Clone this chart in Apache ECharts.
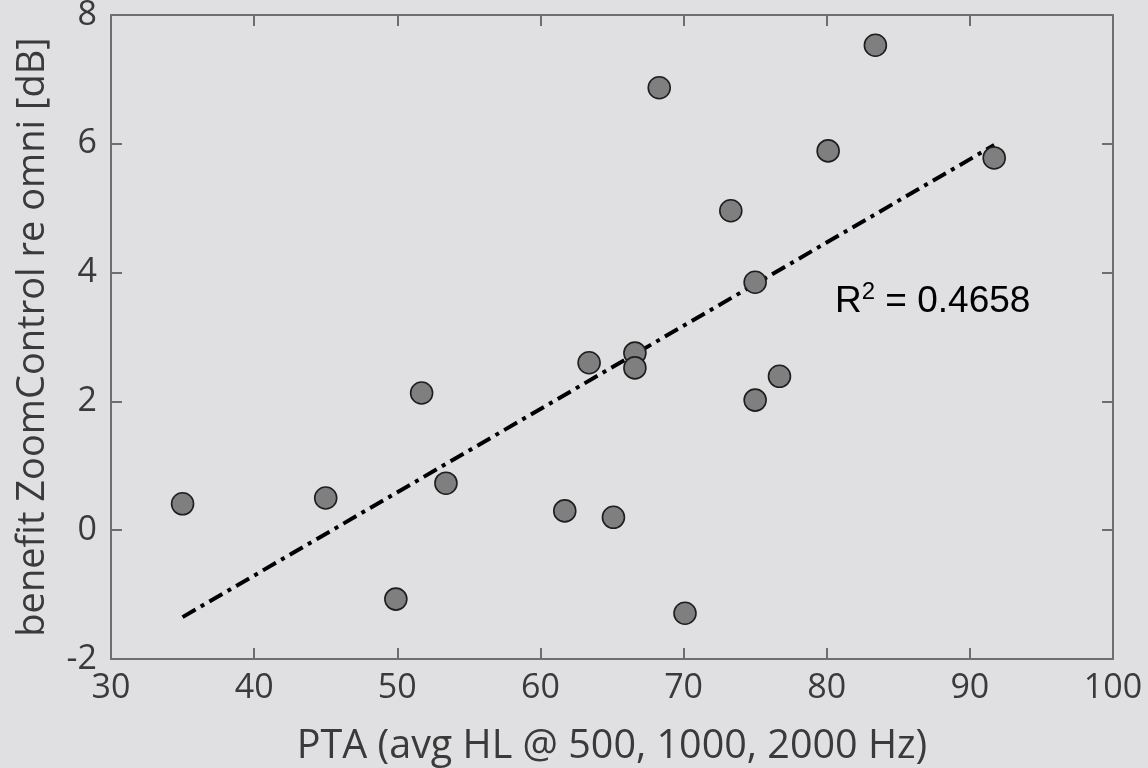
<!DOCTYPE html>
<html><head><meta charset="utf-8">
<script src="https://cdn.jsdelivr.net/npm/echarts@6/dist/echarts.min.js"></script>
<style>html,body{margin:0;padding:0;background:#e0e0e2;}#c{width:1148px;height:768px;}</style>
</head><body><div id="c"></div>
<script>
const ptaValues = [35.0, 45.0, 49.9, 51.7, 53.4, 61.7, 63.4, 65.1, 66.6, 66.6, 68.3, 70.1, 73.3, 75.0, 75.0, 76.7, 80.1, 83.4, 91.7];
const benefitValues = [0.41, 0.50, -1.07, 2.13, 0.73, 0.30, 2.60, 0.20, 2.75, 2.52, 6.87, -1.29, 4.96, 2.02, 3.85, 2.39, 5.89, 7.53, 5.78];
const trendX = [35.0, 91.7];
const trendY = [-1.35, 5.98];
const xTicks = [30, 40, 50, 60, 70, 80, 90, 100];
const yTicks = [-2, 0, 2, 4, 6, 8];
const r2Value = '0.4658';
const xName = 'PTA (avg HL @ 500, 1000, 2000 Hz)';
const yName = 'benefit ZoomControl re omni [dB]';

const scatterData = ptaValues.map((x, i) => [x, benefitValues[i]]);
const trendData = trendX.map((x, i) => [x, trendY[i]]);
const font = '"Open Sans", sans-serif';
const axisCommon = {
  axisLine: { show: true, onZero: false, lineStyle: { color: '#6e6e6e', width: 2 } },
  axisTick: { show: true, inside: true, length: 11, lineStyle: { color: '#6e6e6e', width: 2 } },
  splitLine: { show: false }
};
const chart = echarts.init(document.getElementById('c'));
chart.setOption({
  backgroundColor: '#e0e0e2',
  animation: false,
  grid: { left: 111, top: 15, right: 35, bottom: 109, containLabel: false, outerBoundsMode: 'none' },
  xAxis: [
    Object.assign({
      type: 'value', min: xTicks[0], max: xTicks[xTicks.length - 1], interval: 10,
      position: 'bottom',
      name: xName, nameLocation: 'middle', nameGap: 68,
      nameTextStyle: { fontFamily: font, fontSize: 39.5, color: '#3a3a3a' },
      axisLabel: { fontFamily: font, fontSize: 34, color: '#3a3a3a', margin: 12 }
    }, axisCommon),
    Object.assign({
      type: 'value', min: xTicks[0], max: xTicks[xTicks.length - 1], interval: 10,
      position: 'top', axisLabel: { show: false }
    }, axisCommon)
  ],
  yAxis: [
    Object.assign({
      type: 'value', min: yTicks[0], max: yTicks[yTicks.length - 1], interval: 2,
      position: 'left',
      name: yName, nameLocation: 'middle', nameGap: 59, nameRotate: 90,
      nameTextStyle: { fontFamily: font, fontSize: 38, color: '#3a3a3a' },
      axisLabel: { fontFamily: font, fontSize: 34, color: '#3a3a3a', margin: 14 }
    }, axisCommon),
    Object.assign({
      type: 'value', min: yTicks[0], max: yTicks[yTicks.length - 1], interval: 2,
      position: 'right', axisLabel: { show: false }
    }, axisCommon)
  ],
  series: [
    {
      type: 'line', data: trendData, symbol: 'none', z: 3,
      lineStyle: { color: '#000', width: 4, type: [15, 6, 4, 6] }
    },
    {
      type: 'scatter', data: scatterData, symbol: 'circle', symbolSize: 22, z: 4,
      itemStyle: { color: '#7f7f7f', borderColor: '#1e1e1e', borderWidth: 1.6, opacity: 1 }
    }
  ],
  graphic: [{
    type: 'text', left: 835, top: 280,
    style: {
      text: '{a|R}{s|2}{a| = ' + r2Value + '}',
      rich: {
        a: { fontFamily: '"Liberation Sans", Arial, sans-serif', fontSize: 37, fill: '#000', color: '#000', verticalAlign: 'bottom', lineHeight: 40 },
        s: { fontFamily: '"Liberation Sans", Arial, sans-serif', fontSize: 24, fill: '#000', color: '#000', verticalAlign: 'top', lineHeight: 40, padding: [0, 0, 14, 0] }
      }
    }
  }]
});
</script></body></html>
